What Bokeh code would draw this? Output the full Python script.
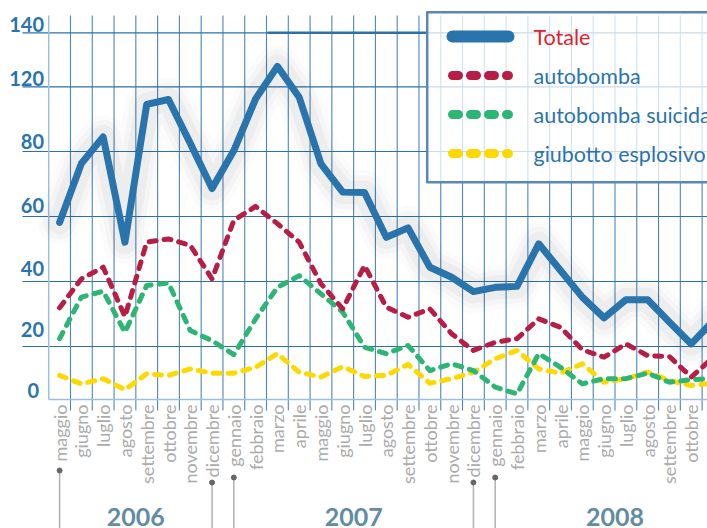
import math
from bokeh.plotting import figure
from bokeh.models import Range1d
from bokeh.core.properties import value
from bokeh.embed import file_html
from bokeh.resources import INLINE

# ---------------- data ----------------
months = ["maggio", "giugno", "luglio", "agosto", "settembre", "ottobre", "novembre", "dicembre",
          "gennaio", "febbraio", "marzo", "aprile", "maggio", "giugno", "luglio", "agosto",
          "settembre", "ottobre", "novembre", "dicembre",
          "gennaio", "febbraio", "marzo", "aprile", "maggio", "giugno", "luglio", "agosto",
          "settembre", "ottobre", "novembre"]
years = [2006] * 8 + [2007] * 12 + [2008] * 11
first_month_number = {2006: 5, 2007: 1, 2008: 1}

totale = [58.2, 76.3, 84.5, 52.1, 94.5, 96.0, 82.5, 68.6, 80.3, 96.2, 106.2, 96.7, 76.2, 67.5,
          67.4, 53.6, 56.5, 44.4, 41.3, 36.9, 38.2, 38.5, 51.6, 43.4, 35.2, 28.8, 34.4, 34.4,
          27.5, 20.8, 27.8]
autobomba = [31.9, 40.8, 44.4, 29.2, 52.1, 53.1, 51.1, 40.8, 58.8, 63.1, 57.8, 52.1, 39.3, 31.6,
             44.9, 32.1, 29.0, 31.6, 23.9, 18.8, 21.3, 22.4, 28.5, 25.9, 19.0, 16.7, 20.8, 17.2,
             16.9, 10.6, 16.6]
suicida = [22.4, 35.2, 37.0, 24.4, 38.8, 39.5, 24.9, 21.8, 17.5, 28.5, 38.2, 41.8, 36.2, 30.6,
           19.8, 17.8, 20.3, 12.6, 14.7, 12.6, 7.5, 5.4, 17.8, 13.6, 8.5, 10.1, 10.1, 11.8,
           9.0, 9.8, 10.2]
giubotto = [11.1, 8.5, 10.1, 6.7, 11.6, 11.1, 13.1, 11.8, 11.8, 13.6, 17.8, 12.1, 10.6, 13.8,
            10.8, 11.1, 14.5, 8.7, 10.1, 12.1, 16.2, 18.8, 13.1, 11.8, 14.7, 9.0, 10.1, 12.1,
            9.5, 8.0, 8.7]

series_names = ["Totale", "autobomba", "autobomba suicida", "giubotto esplosivo"]
y_tick_labels = ["140", "120", "80", "60", "40", "20", "0"]

# ---------------- layout (screen pixels -> data units) ----------------
W, H = 707, 528
X0_PX, X_STEP = 59.1, 21.78
Y0_PX, Y_STEP = 411.0, 3.25


def X(px):
    return (px - X0_PX) / X_STEP


def V(py):
    return (Y0_PX - py) / Y_STEP


grid_px = [32.3, 86.3, 151, 216, 281, 346]
ylabel_px = [24, 77.5, 141, 204.7, 267.5, 329, 390.3]
ylabel_right_px = [43.5, 43.5, 43.5, 43.5, 43.5, 43.5, 38.5]
legend_rows_px = [36, 75, 114, 153]
sep_dot_px = {"maggio": 470, "dicembre": 482, "gennaio": 477}

BLUE = "#2a74ad"
RED = "#b81e45"
GREEN = "#2db574"
YELLOW = "#fdd900"
GRID = "#2c72aa"
LIGHT = "#9dbfdd"

p = figure(width=W, height=H,
           x_range=Range1d(X(0), X(W)), y_range=Range1d(V(H), V(0)),
           output_backend="svg", toolbar_location=None, min_border=0,
           x_axis_type=None, y_axis_type=None)
p.grid.visible = False
p.outline_line_color = None
p.background_fill_color = "white"
p.border_fill_color = "white"

idx = list(range(len(months)))
bounds = [i + 0.5 for i in idx]

# vertical grid lines / ticks
p.segment(x0=bounds, y0=V(410), x1=bounds, y1=V(15), line_color=GRID, line_width=1.1, line_alpha=0.85)
# horizontal grid lines
gy = [V(g) for g in grid_px]
p.segment(x0=X(22), y0=gy, x1=X(W + 10), y1=gy, line_color=GRID, line_width=1.2)
p.segment(x0=[X(267)], y0=[gy[0]], x1=[X(427)], y1=[gy[0]], line_color=GRID, line_width=2.4)
# axis line and baseline
p.segment(x0=[-0.5], y0=[V(399)], x1=[-0.5], y1=[V(15)], line_color=LIGHT, line_width=1.5)
p.segment(x0=[-0.5], y0=[V(399)], x1=[X(W + 10)], y1=[V(399)], line_color=LIGHT, line_width=1.5)

# shadow under Totale
for w, a in [(44, 0.016), (34, 0.022), (24, 0.03)]:
    p.line(idx, totale, line_width=w, line_color="black", line_alpha=a,
           line_join="round", line_cap="round")

# data series
p.line(idx, giubotto, line_width=5, line_color=YELLOW, line_dash="7 8",
       line_cap="round", line_join="round")
p.line(idx, suicida, line_width=5, line_color=GREEN, line_dash="7 8",
       line_cap="round", line_join="round")
p.line(idx, autobomba, line_width=5, line_color=RED, line_dash="7 8",
       line_cap="round", line_join="round")
p.line(idx, totale, line_width=7, line_color=BLUE, line_cap="round", line_join="round")

# month labels
p.text(x=idx, y=V(404), text=months, angle=math.pi / 2, text_align="right",
       text_baseline="middle", text_font=value("Lato"), text_font_size="18px",
       text_color="#ababab")

# year separators and year labels
year_list = sorted(set(years))
sep_x, sep_dot_y, yr_x, yr_txt = [], [], [], []
for yv in year_list:
    ids = [i for i in idx if years[i] == yv]
    first, last = ids[0], ids[-1]
    n_in_year = 12 - first_month_number[yv] + 1
    yr_x.append(first + (n_in_year - 1) / 2)
    yr_txt.append(str(yv))
    for i in (first, last):
        sep_x.append(i)
        sep_dot_y.append(V(sep_dot_px.get(months[i], 478)))
p.segment(x0=sep_x, y0=sep_dot_y, x1=sep_x, y1=V(H + 10), line_color="#b5b5b5", line_width=1.6)
p.scatter(sep_x, sep_dot_y, size=5, color="#666666")
p.text(x=yr_x, y=V(516), text=yr_txt, text_align="center", text_baseline="middle",
       text_font=value("Lato"), text_font_style="bold", text_font_size="25px",
       text_color="#638ca3")

# y tick labels
p.text(x=[X(v) for v in ylabel_right_px], y=[V(v) for v in ylabel_px], text=y_tick_labels,
       text_align="right", text_baseline="middle", text_font=value("Lato"),
       text_font_style="bold", text_font_size="20px", text_color=BLUE)

# legend box
p.quad(left=[X(426.7)], right=[X(W + 60)], top=[V(11.7)], bottom=[V(181.7)],
       fill_color="white", fill_alpha=0.75, line_color="#5a86ba", line_width=2.5,
       line_join="round")
ly = [V(v) for v in legend_rows_px]
lx0, lx1, ltx = X(452), X(508), X(533)
p.line([lx0, lx1], [ly[0], ly[0]], line_width=12, line_color=BLUE, line_cap="round")
for k, col in [(1, RED), (2, GREEN), (3, YELLOW)]:
    p.line([lx0, lx1], [ly[k], ly[k]], line_width=9, line_color=col, line_dash="6 12",
           line_cap="round")
p.text(x=[ltx] * 4, y=ly, text=series_names, text_align="left", text_baseline="middle",
       text_font=value("Lato"), text_font_size="21.5px",
       text_color=["#dc2430", BLUE, BLUE, BLUE])

open("out.html", "w").write(file_html(p, INLINE))
